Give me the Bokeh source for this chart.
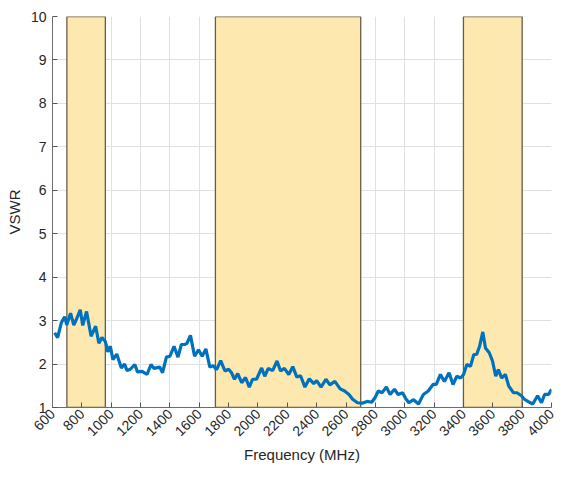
import math
from bokeh.plotting import figure
from bokeh.models import Range1d, FixedTicker, ColumnDataSource
from bokeh.embed import file_html
from bokeh.resources import INLINE

freq = [615, 635, 660, 683, 697, 723, 745, 762, 789, 806, 832, 863, 894, 916, 937, 960,
        977, 994, 1012, 1038, 1069, 1091, 1108, 1130, 1161, 1179, 1210, 1244, 1271, 1292,
        1330, 1350, 1376, 1400, 1428, 1455, 1478, 1500, 1515, 1540, 1568, 1595, 1620, 1645,
        1672, 1695, 1718, 1746, 1775, 1800, 1820, 1840, 1862, 1889, 1915, 1941, 1963, 1990,
        2025, 2046, 2070, 2100, 2130, 2154, 2180, 2210, 2237, 2265, 2290, 2320, 2350, 2380,
        2400, 2430, 2463, 2490, 2524, 2560, 2590, 2620, 2645, 2678, 2710, 2743, 2775, 2798,
        2820, 2845, 2875, 2900, 2930, 2955, 2985, 3006, 3028, 3060, 3094, 3127, 3160, 3193,
        3215, 3243, 3270, 3302, 3329, 3355, 3380, 3401, 3423, 3448, 3471, 3490, 3510, 3532,
        3550, 3576, 3598, 3620, 3638, 3660, 3686, 3708, 3740, 3765, 3795, 3815, 3839, 3872,
        3905, 3932, 3953, 3980, 4000]
vswr = [2.72, 2.61, 2.95, 3.09, 2.90, 3.17, 2.90, 3.02, 3.25, 2.89, 3.21, 2.64, 2.87, 2.48, 2.61, 2.52,
        2.28, 2.41, 2.10, 2.23, 1.91, 2.00, 1.85, 1.88, 1.99, 1.82, 1.83, 1.76, 1.99, 1.90,
        1.93, 1.80, 2.16, 2.18, 2.41, 2.16, 2.45, 2.45, 2.47, 2.66, 2.18, 2.33, 2.18, 2.35,
        1.93, 1.96, 1.87, 2.08, 1.84, 1.88, 1.80, 1.65, 1.78, 1.57, 1.69, 1.47, 1.65, 1.65,
        1.91, 1.72, 1.90, 1.85, 2.07, 1.84, 1.90, 1.76, 1.94, 1.70, 1.73, 1.47, 1.66, 1.55,
        1.62, 1.47, 1.65, 1.52, 1.60, 1.43, 1.38, 1.30, 1.19, 1.11, 1.10, 1.14, 1.12, 1.23,
        1.38, 1.34, 1.47, 1.30, 1.42, 1.30, 1.34, 1.21, 1.11, 1.18, 1.08, 1.30, 1.38, 1.53,
        1.53, 1.76, 1.60, 1.80, 1.53, 1.72, 1.68, 1.76, 1.99, 1.95, 2.22, 2.22, 2.41, 2.74,
        2.37, 2.26, 2.07, 1.72, 1.87, 1.68, 1.76, 1.50, 1.34, 1.34, 1.27, 1.19, 1.14, 1.08,
        1.27, 1.11, 1.30, 1.30, 1.42]

band_start = [698, 1710, 3400]
band_end = [960, 2700, 3800]
band_bottom = [1, 1, 1]
band_top = [10, 10, 10]

x_ticks = list(range(600, 4001, 200))
y_ticks = list(range(1, 11))

p = figure(width=566, height=465, output_backend="svg", toolbar_location=None,
           x_range=Range1d(600, 4000), y_range=Range1d(1, 10),
           min_border_left=52, min_border_right=15, min_border_top=16, min_border_bottom=55)

p.quad(left=band_start, right=band_end, bottom=band_bottom, top=band_top,
       fill_color="#FDE9B0", fill_alpha=1.0, line_color="#6A5C48", line_width=1.3)

src = ColumnDataSource(dict(x=freq, y=vswr))
p.line("x", "y", source=src, line_color="#0072BD", line_width=3.2)

p.outline_line_color = None
p.background_fill_color = "white"
p.border_fill_color = "white"

for ax in (p.xaxis[0], p.yaxis[0]):
    ax.axis_line_color = "#6e6e6e"
    ax.axis_line_width = 1
    ax.major_tick_in = 5
    ax.major_tick_out = 0
    ax.minor_tick_line_color = None
    ax.major_tick_line_color = "#555555"
    ax.major_label_text_font = "Liberation Sans"
    ax.major_label_text_font_size = "14px"
    ax.major_label_text_color = "#262626"
    ax.axis_label_text_font = "Liberation Sans"
    ax.axis_label_text_font_size = "15px"
    ax.axis_label_text_font_style = "normal"
    ax.axis_label_text_color = "#262626"

p.xaxis.ticker = FixedTicker(ticks=x_ticks)
p.yaxis.ticker = FixedTicker(ticks=y_ticks)
p.xaxis.major_label_orientation = math.pi / 4
p.xaxis.axis_label = "Frequency (MHz)"
p.yaxis.axis_label = "VSWR"
p.xaxis.major_label_standoff = 4
p.yaxis.major_label_standoff = 6
p.xaxis.axis_label_standoff = 2

p.xgrid.ticker = FixedTicker(ticks=x_ticks)
p.ygrid.ticker = FixedTicker(ticks=y_ticks)
p.grid.grid_line_color = "#e0e0e0"
p.grid.grid_line_width = 1

open("out.html", "w").write(file_html(p, INLINE))
